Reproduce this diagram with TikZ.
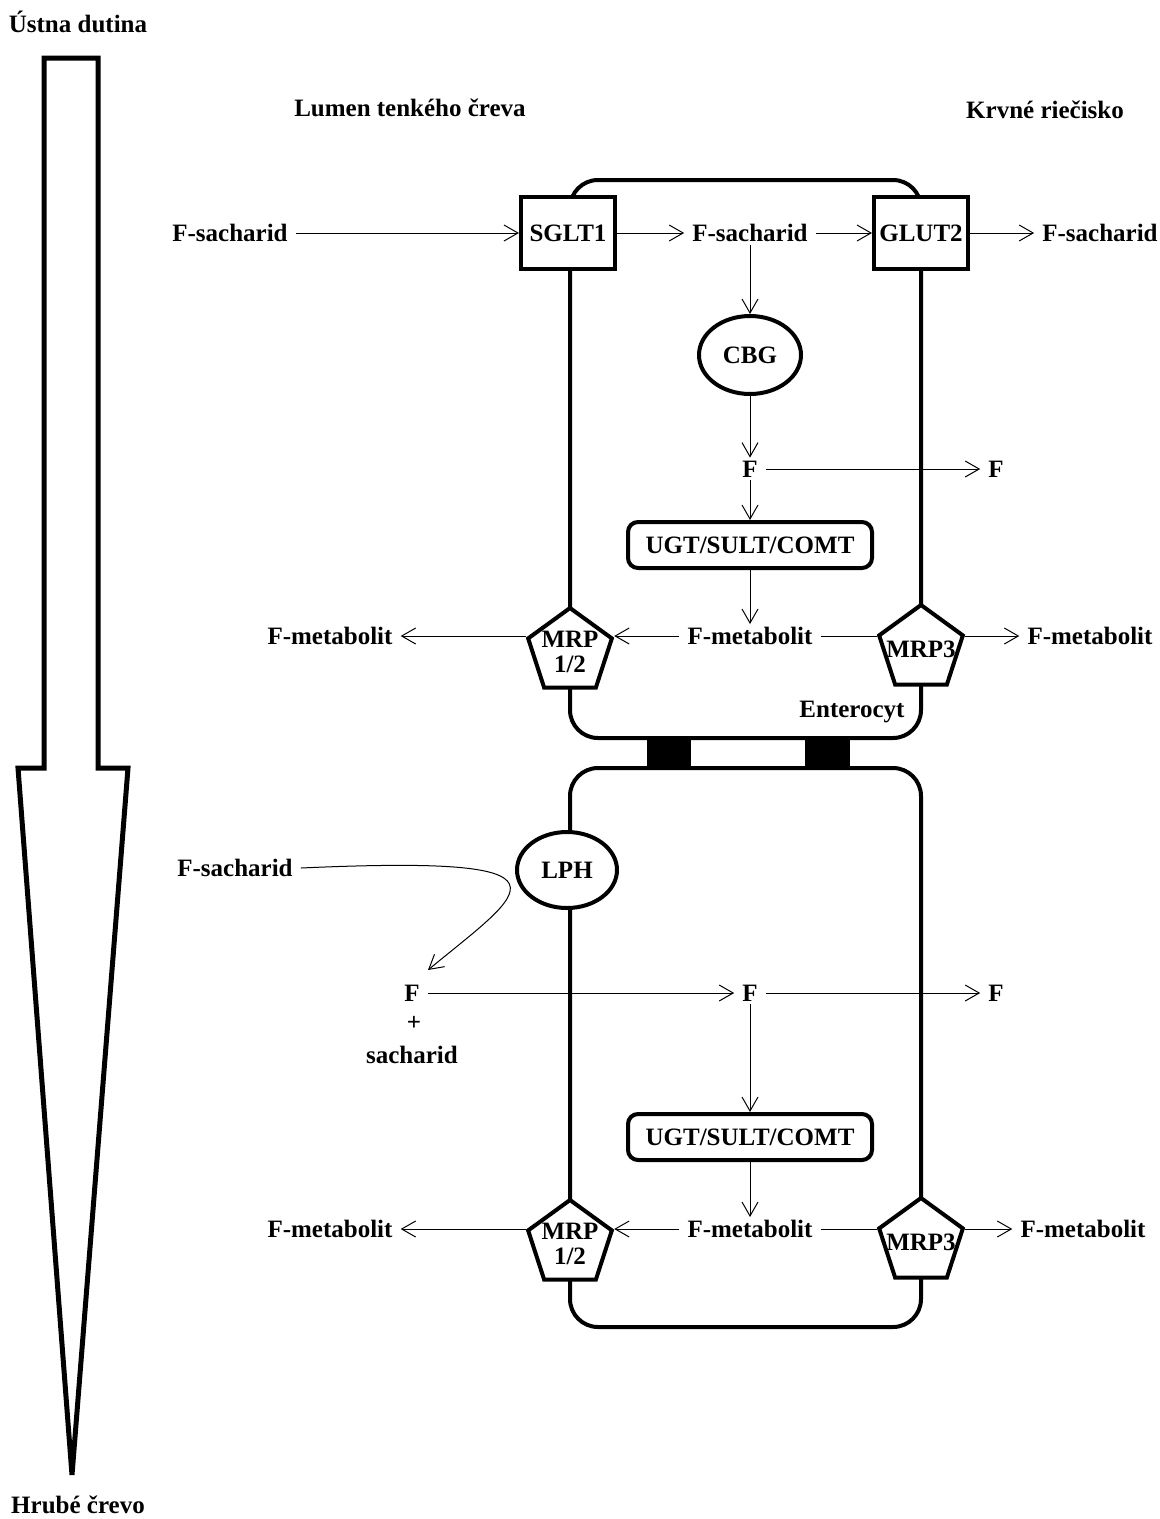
\documentclass[tikz,border=0pt]{standalone}
\usepackage{fontspec}
\setmainfont{Liberation Serif}
\usetikzlibrary{arrows.meta, shapes.geometric, backgrounds}

\begin{document}
\begin{tikzpicture}
  [
    x = 1pt, y = -1pt,
    every node/.style = {font = \fontsize{25}{25}\selectfont\bfseries,
                         inner xsep = 8pt, inner ysep = 3pt, align = center},
    arr/.style = {-{Straight Barb[length=14pt, width=16pt]}, line width = 1pt},
    membrane/.style = {line width = 4pt, rounded corners = 28pt},
    transporter/.style = {draw, line width = 4pt, fill = white,
                          minimum width = 94pt, minimum height = 72pt, inner xsep = 4pt},
    enzyme/.style = {draw, ellipse, line width = 4pt, fill = white,
                     minimum width = 102pt, minimum height = 78pt, inner sep = 0pt},
    pump/.style = {draw, regular polygon, regular polygon sides = 5, line width = 4pt,
                   fill = white, minimum size = 88pt, inner sep = 0pt},
    conjug/.style = {draw, rounded corners = 10pt, line width = 4pt, fill = white,
                     minimum width = 244pt, minimum height = 46pt}
  ]
  \useasboundingbox (0,0) rectangle (1160,1519);

  % gut
  \node (mouth) at (78,22) {Ústna dutina};
  \node (colon) at (78,1505) {Hrubé črevo};
  \draw[line width = 5pt] (44,58) -- (98,58) -- (98,768) -- (128,768) -- (72,1475)
    -- (18,768) -- (44,768) -- cycle;
  \node (lumen) at (410,108) {Lumen tenkého čreva};
  \node (blood) at (1045,110) {Krvné riečisko};

  % upper enterocyte
  \node[transporter] (sglt) at (568,233) {SGLT1};
  \node[transporter] (glut) at (921,233) {GLUT2};
  \node (sachIn) at (230,233) {F-sacharid};
  \node (sachCell) at (750,233) {F-sacharid};
  \node (sachOut) at (1100,233) {F-sacharid};
  \node[enzyme] (cbg) at (750,355) {CBG};
  \node (fCell) at (750,469) {F};
  \node (fOut) at (996,469) {F};
  \node[conjug] (ugt) at (750,545) {UGT/SULT/COMT};
  \node (metCell) at (750,636) {F-metabolit};
  \node[pump, label = center:{MRP\\1/2}] (mrpA) at (570,652) {};
  \node[pump, label = center:MRP3] (mrpB) at (921,649) {};
  \node (metLumen) at (330,636) {F-metabolit};
  \node (metBlood) at (1090,636) {F-metabolit};
  \node (ent) at (852,712) {Enterocyt};

  \draw[arr] (sachIn) -- (sglt);
  \draw[arr] (sglt) -- (sachCell);
  \draw[arr] (sachCell) -- (glut);
  \draw[arr] (glut) -- (sachOut);
  \draw[arr] (sachCell) -- (cbg);
  \draw[arr] (cbg) -- (fCell);
  \draw[arr] (fCell) -- (fOut);
  \draw[arr] (fCell) -- (ugt);
  \draw[arr] (ugt) -- (metCell);
  \draw[arr] (metCell) -- (metCell -| mrpA.corner 5);
  \draw[arr] (metCell -| mrpA.corner 2) -- (metLumen);
  \draw[line width = 1pt] (metCell) -- (metCell -| mrpB.corner 2);
  \draw[arr] (metCell -| mrpB.corner 5) -- (metBlood);

  % lower enterocyte
  \node[enzyme, minimum width = 100pt, minimum height = 76pt] (lph) at (567,870) {LPH};
  \node (sachLumen) at (235,868) {F-sacharid};
  \coordinate (hydro) at (428,970);
  \node (fLumen) at (412,993) {F};
  \node (plus) at (414,1023) {+};
  \node (sach) at (412,1055) {sacharid};
  \node (fCell2) at (750,993) {F};
  \node (fOut2) at (996,993) {F};
  \node[conjug] (ugt2) at (750,1137) {UGT/SULT/COMT};
  \node (metCell2) at (750,1229) {F-metabolit};
  \node[pump, label = center:{MRP\\1/2}] (mrpC) at (570,1244) {};
  \node[pump, label = center:MRP3] (mrpD) at (921,1242) {};
  \node (metLumen2) at (330,1229) {F-metabolit};
  \node (metBlood2) at (1083,1229) {F-metabolit};

  \draw[arr] (sachLumen.east) .. controls (590,855) and (525,890) .. (hydro);
  \draw[arr] (fLumen) -- (fCell2);
  \draw[arr] (fCell2) -- (fOut2);
  \draw[arr] (fCell2) -- (ugt2);
  \draw[arr] (ugt2) -- (metCell2);
  \draw[arr] (metCell2) -- (metCell2 -| mrpC.corner 5);
  \draw[arr] (metCell2 -| mrpC.corner 2) -- (metLumen2);
  \draw[line width = 1pt] (metCell2) -- (metCell2 -| mrpD.corner 2);
  \draw[arr] (metCell2 -| mrpD.corner 5) -- (metBlood2);

  \begin{scope}[on background layer]
    \draw[membrane] (570,180) rectangle (921,738);
    \draw[membrane] (570,768) rectangle (921,1327);
    \fill (647,738) rectangle (691,768);
    \fill (805,738) rectangle (850,768);
  \end{scope}
\end{tikzpicture}
\end{document}
